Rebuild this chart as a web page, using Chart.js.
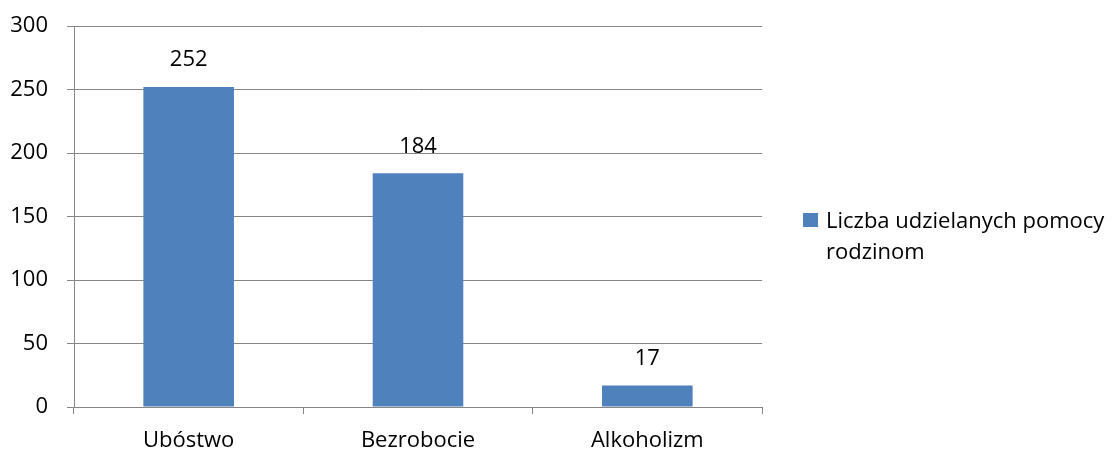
<!DOCTYPE html>
<html>
<head>
<meta charset="utf-8">
<script src="https://cdn.jsdelivr.net/npm/chart.js@4/dist/chart.umd.min.js"></script>
<style>
  html, body { margin: 0; padding: 0; background: #fff; }
  canvas { display: block; }
</style>
</head>
<body>
<canvas id="c" width="1119" height="452"></canvas>
<script>
const categories = ["Ubóstwo", "Bezrobocie", "Alkoholizm"];
const seriesLabel = ["Liczba udzielanych pomocy", "rodzinom"];
const seriesValues = [252, 184, 17];
const yTicks = [0, 50, 100, 150, 200, 250, 300];

const FONT = "'Open Sans', sans-serif";
const FS = 22;
const GRID = "#868686";
const BAR = "#4F81BD";

const valueLabels = {
  id: "valueLabels",
  afterDatasetsDraw(chart) {
    const ctx = chart.ctx;
    ctx.save();
    ctx.font = FS + "px " + FONT;
    ctx.fillStyle = "#000";
    ctx.textAlign = "center";
    ctx.textBaseline = "middle";
    chart.getDatasetMeta(0).data.forEach((el, i) => {
      ctx.fillText(String(chart.data.datasets[0].data[i]), el.x, el.y - 27);
    });
    ctx.restore();
  }
};

const sideLegend = {
  id: "sideLegend",
  afterDraw(chart) {
    const ctx = chart.ctx;
    const ds = chart.data.datasets[0];
    ctx.save();
    ctx.fillStyle = ds.backgroundColor;
    ctx.fillRect(803, 213, 15, 14);
    ctx.font = FS + "px " + FONT;
    ctx.fillStyle = "#000";
    ctx.textAlign = "left";
    ctx.textBaseline = "alphabetic";
    const lines = Array.isArray(ds.label) ? ds.label : [ds.label];
    lines.forEach((t, i) => ctx.fillText(t, 826, 228 + i * 31));
    ctx.restore();
  }
};

new Chart(document.getElementById("c"), {
  type: "bar",
  data: {
    labels: categories,
    datasets: [{
      label: seriesLabel,
      data: seriesValues,
      backgroundColor: BAR,
      borderWidth: 0,
      barPercentage: 0.395,
      categoryPercentage: 1.0
    }]
  },
  options: {
    responsive: false,
    animation: false,
    layout: { padding: { left: 0, right: 357, top: 26, bottom: 0 } },
    plugins: {
      legend: { display: false },
      tooltip: { enabled: false }
    },
    scales: {
      x: {
        offset: true,
        grid: {
          offset: true,
          drawOnChartArea: false,
          drawTicks: true,
          tickLength: 7,
          color: GRID,
          lineWidth: 1
        },
        border: { display: true, color: GRID, width: 1 },
        ticks: {
          color: "#000",
          font: { family: FONT, size: FS },
          padding: 14,
          maxRotation: 0
        },
        afterFit(scale) {
          scale.height = 45;
          scale.paddingLeft = 0; scale.paddingRight = 0;
        }
      },
      y: {
        min: 0,
        max: 300,
        afterBuildTicks(scale) { scale.ticks = yTicks.map(v => ({ value: v })); },
        grid: {
          color: GRID,
          lineWidth: 1,
          drawTicks: true,
          tickLength: 7
        },
        border: { display: true, color: GRID, width: 1 },
        ticks: {
          color: "#000",
          font: { family: FONT, size: FS },
          padding: 19
        },
        afterFit(scale) {
          scale.width = 74;
          scale.paddingTop = 0; scale.paddingBottom = 0;
        }
      }
    }
  },
  plugins: [valueLabels, sideLegend]
});
</script>
</body>
</html>
